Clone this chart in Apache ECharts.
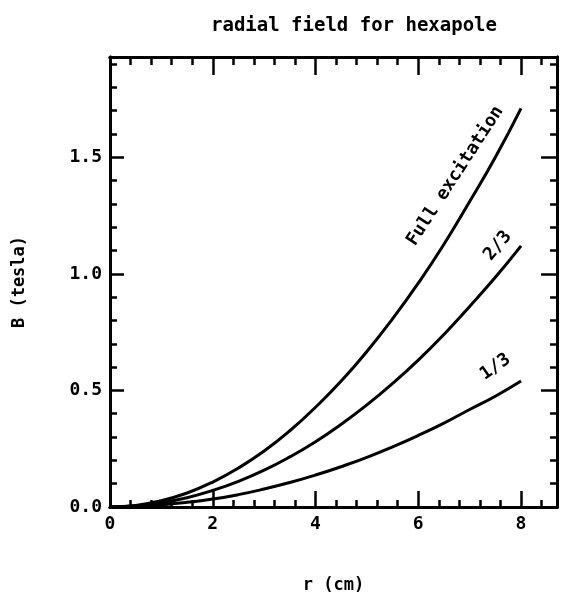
<!DOCTYPE html>
<html>
<head>
<meta charset="utf-8">
<script src="https://cdn.jsdelivr.net/npm/echarts@6/dist/echarts.min.js"></script>
<style>html,body{margin:0;padding:0;background:#fff}#c{width:561px;height:599px}</style>
</head>
<body>
<div id="c"></div>
<script>
// Data
const radius = [0, 0.5, 1, 1.5, 2, 2.5, 3, 3.5, 4, 4.5, 5, 5.5, 6, 6.5, 7, 7.5, 8];
const fullExcitation = [0, 0.007, 0.027, 0.06, 0.107, 0.167, 0.24, 0.327, 0.428, 0.54, 0.667, 0.807, 0.96, 1.127, 1.31, 1.50, 1.71];
const twoThirds = [0, 0.005, 0.018, 0.04, 0.071, 0.11, 0.158, 0.215, 0.28, 0.355, 0.438, 0.53, 0.63, 0.74, 0.86, 0.985, 1.12];
const oneThird = [0, 0.002, 0.009, 0.02, 0.034, 0.053, 0.077, 0.105, 0.137, 0.173, 0.213, 0.258, 0.307, 0.36, 0.418, 0.475, 0.54];
const seriesNames = ['Full excitation', '2/3', '1/3'];
const labelAnchors = [[6.72, 1.42], [7.55, 1.12], [7.5, 0.6]];
const labelAngles = [57, 50, 35];
const xTickLabels = ['0', '2', '4', '6', '8'];
const yTickLabels = ['0.0', '0.5', '1.0', '1.5'];

const FONT = 'DejaVu Sans Mono';
const XMAX = 8.7, YMAX = 1.93;
const chart = echarts.init(document.getElementById('c'));

function xAxisDef(pos, interval, len, labels, extra) {
  return Object.assign({
    type: 'value', min: 0, max: XMAX, interval: interval, position: pos,
    axisLine: { show: true, onZero: false, lineStyle: { color: '#000', width: 3 } },
    axisTick: { show: true, inside: true, length: len, lineStyle: { color: '#000', width: 2.5 } },
    axisLabel: labels ? {
      show: true, color: '#000', fontFamily: FONT, fontWeight: 'bold', fontSize: 18, margin: 8,
      showMaxLabel: false,
      formatter: v => { const s = String(Math.round(v)); return xTickLabels.includes(s) && Math.abs(v - Math.round(v)) < 1e-6 ? s : ''; }
    } : { show: false },
    splitLine: { show: false }
  }, extra || {});
}
function yAxisDef(pos, interval, len, labels, extra) {
  return Object.assign({
    type: 'value', min: 0, max: YMAX, interval: interval, position: pos,
    axisLine: { show: true, onZero: false, lineStyle: { color: '#000', width: 3 } },
    axisTick: { show: true, inside: true, length: len, lineStyle: { color: '#000', width: 2.5 } },
    axisLabel: labels ? {
      show: true, color: '#000', fontFamily: FONT, fontWeight: 'bold', fontSize: 18, margin: 8,
      showMaxLabel: false,
      formatter: v => { const s = v.toFixed(1); return yTickLabels.includes(s) ? s : ''; }
    } : { show: false },
    splitLine: { show: false }
  }, extra || {});
}

const curves = [fullExcitation, twoThirds, oneThird];
const series = curves.map((vals, i) => ({
  name: seriesNames[i],
  type: 'line',
  xAxisIndex: 0, yAxisIndex: 0,
  smooth: true,
  showSymbol: false,
  lineStyle: { color: '#000', width: 3 },
  data: radius.map((r, k) => [r, vals[k]]),
  markPoint: {
    symbol: 'circle', symbolSize: 0,
    data: [{ coord: labelAnchors[i] }],
    label: {
      show: true, position: 'inside', formatter: seriesNames[i], rotate: labelAngles[i],
      color: '#000', fontFamily: FONT, fontWeight: 'bold', fontSize: 18
    }
  }
}));

chart.setOption({
  animation: false,
  backgroundColor: '#fff',
  title: {
    text: 'radial field for hexapole', left: 206, top: 12,
    textStyle: { color: '#000', fontFamily: FONT, fontWeight: 'bold', fontSize: 19 }
  },
  grid: { left: 110, right: 4, top: 57, bottom: 92 },
  xAxis: [
    xAxisDef('bottom', 2, 16, true, {
      name: 'r (cm)', nameLocation: 'middle', nameGap: 70,
      nameTextStyle: { color: '#000', fontFamily: FONT, fontWeight: 'bold', fontSize: 17 }
    }),
    xAxisDef('bottom', 0.4, 7, false),
    xAxisDef('top', 2, 18, false),
    xAxisDef('top', 0.4, 8, false)
  ],
  yAxis: [
    yAxisDef('left', 0.5, 14, true, {
      name: 'B (tesla)', nameLocation: 'middle', nameGap: 82,
      nameTextStyle: { color: '#000', fontFamily: FONT, fontWeight: 'bold', fontSize: 17 }
    }),
    yAxisDef('left', 0.1, 7, false),
    yAxisDef('right', 0.5, 16, false),
    yAxisDef('right', 0.1, 7, false)
  ],
  series: series
});
</script>
</body>
</html>
